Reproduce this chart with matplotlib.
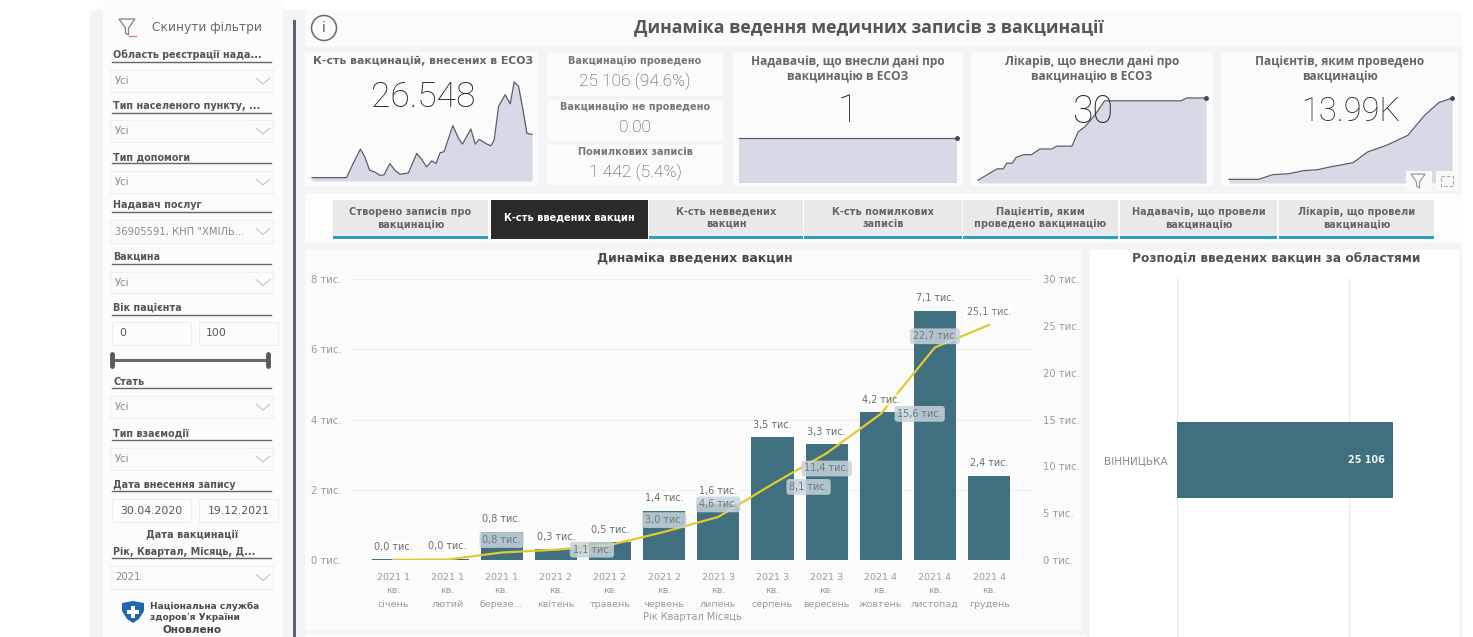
import matplotlib
matplotlib.use("Agg")
import matplotlib.pyplot as plt
from matplotlib.patches import Rectangle, Circle, Polygon

W, H = 1473, 637

# main chart data
months = ["2021 1\nкв.\nсічень", "2021 1\nкв.\nлютий", "2021 1\nкв.\nберезе...", "2021 2\nкв.\nквітень",
          "2021 2\nкв.\nтравень", "2021 2\nкв.\nчервень", "2021 3\nкв.\nлипень", "2021 3\nкв.\nсерпень",
          "2021 3\nкв.\nвересень", "2021 4\nкв.\nжовтень", "2021 4\nкв.\nлистопад", "2021 4\nкв.\nгрудень"]
monthly = [0.02, 0.03, 0.8, 0.3, 0.5, 1.4, 1.6, 3.5, 3.3, 4.2, 7.1, 2.4]
cumulative = [0.02, 0.05, 0.8, 1.1, 1.6, 3.0, 4.6, 8.1, 11.4, 15.6, 22.7, 25.1]
monthly_labels = ["0,0 тис.", "0,0 тис.", "0,8 тис.", "0,3 тис.", "0,5 тис.", "1,4 тис.",
                  "1,6 тис.", "3,5 тис.", "3,3 тис.", "4,2 тис.", "7,1 тис.", "2,4 тис."]
cumulative_labels = [None, None, "0,8 тис.", "1,1 тис.", None, "3,0 тис.",
                     "4,6 тис.", "8,1 тис.", "11,4 тис.", "15,6 тис.", "22,7 тис.", "25,1 тис."]

left_ticks = [0, 2, 4, 6, 8]
left_labels = ["0 тис.", "2 тис.", "4 тис.", "6 тис.", "8 тис."]
right_ticks = [0, 5, 10, 15, 20, 25, 30]
right_labels = ["0 тис.", "5 тис.", "10 тис.", "15 тис.", "20 тис.", "25 тис.", "30 тис."]

regions = ["ВІННИЦЬКА"]
region_values = [25106]

# sparklines
spark1_x = [0, 15.7, 18.7, 22.0, 24.0, 26.2, 28.5, 30.8, 32.7, 35.4, 37.7, 40.0, 43.8, 47.6, 49.9, 52.1, 54.4,
            56.4, 58.2, 60.0, 64.0, 66.6, 68.4, 72.2, 74.2, 76.0, 79.5, 81.3, 82.8, 84.8, 87.8, 90.1, 91.9,
            93.9, 95.9, 97.7, 100]
spark1_y = [10, 10, 52, 95, 72, 32, 27, 17, 18, 52, 32, 20, 24, 82, 64, 42, 60,
            52, 84, 87, 165, 127, 110, 155, 110, 124, 110, 105, 122, 222, 257, 230, 295,
            282, 212, 142, 139]
spark3_x = [0, 100]
spark3_y = [1, 1]
spark4_x = [0, 8.4, 11.1, 12.6, 15.1, 16.7, 19.9, 23.4, 27.2, 32.4, 34.5, 41.2, 43.9, 47.1, 51.3, 55.5, 89.0, 91.5, 100]
spark4_y = [1, 5, 5, 7, 7, 9, 10, 10, 12, 12, 13, 13, 18, 20, 24, 29, 29, 30, 30]
spark5_x = [0, 13.2, 19.6, 27.0, 33.4, 39.8, 45.1, 55.7, 62.1, 70.6, 80.2, 87.7, 94.0, 100]
spark5_y = [0.6, 0.6, 1.37, 1.54, 2.03, 2.19, 2.63, 3.35, 5.10, 6.2, 7.85, 11.14, 13.22, 13.99]

tabs = ["Створено записів про\nвакцинацію", "К-сть введених вакцин", "К-сть невведених\nвакцин",
        "К-сть помилкових\nзаписів", "Пацієнтів, яким\nпроведено вакцинацію",
        "Надавачів, що провели\nвакцинацію", "Лікарів, що провели\nвакцинацію"]

BAR = "#40707f"
LINE = "#e2c92e"
GREY_BG = "#f3f4f6"
PANEL = "#fbfbfb"
TXT = "#5f5f5f"
TICK = "#9a9a9a"
FILL = "#d6dae6"

plt.rcParams["font.family"] = ["DejaVu Sans"]

fig = plt.figure(figsize=(W / 100, H / 100), dpi=100, facecolor="white")
bg = fig.add_axes([0, 0, 1, 1])
bg.set_xlim(0, W)
bg.set_ylim(H, 0)
bg.axis("off")


def rect(x0, y0, x1, y1, color, z=1, ec="none", lw=0, on=None):
    (on or bg).add_patch(Rectangle((x0, y0), x1 - x0, y1 - y0, facecolor=color, edgecolor=ec, linewidth=lw, zorder=z))


def txt(x, y, s, size=8, color=TXT, ha="center", weight="normal", family="DejaVu Sans", **kw):
    return bg.text(x, y, s, fontsize=size, color=color, ha=ha, va="center", fontweight=weight,
                   family=family, zorder=5, **kw)


def px_axes(x0, y0, x1, y1):
    ax = fig.add_axes([x0 / W, 1 - y1 / H, (x1 - x0) / W, (y1 - y0) / H])
    ax.patch.set_alpha(0)
    return ax


def spark(x0, y0, x1, y1, xs, ys, ymax, dot=True):
    ax = px_axes(x0, y0, x1, y1)
    ax.fill_between(xs, ys, 0, color=FILL, lw=0)
    ax.plot(xs, ys, color="#5a5d68", lw=0.9, clip_on=False, solid_joinstyle="round")
    if dot:
        ax.plot(xs[-1], ys[-1], "o", color="#44464f", ms=2.5, clip_on=False)
    ax.set_xlim(0, 100)
    ax.set_ylim(0, ymax)
    ax.axis("off")
    return ax


def chevron(x, y):
    bg.plot([x - 7, x, x + 7], [y - 3, y + 3, y - 3], color="#bbbbbb", lw=0.7, zorder=5)


def filter_label(y, s, line_y):
    txt(113, y, s, size=6.9, ha="left", weight="bold", color="#555555")
    bg.plot([112, 271], [line_y, line_y], color="#666666", lw=1, zorder=5)


def dropdown(y0, y1, s="Усі"):
    rect(110, y0, 273, y1, "#fbfbfb", z=2, ec="#f0f0f0", lw=0.8)
    txt(115, (y0 + y1) / 2, s, size=7.2, ha="left", color="#888888")
    chevron(263, (y0 + y1) / 2)


def input_box(x0, x1, y0, y1, s, ha="center"):
    rect(x0, y0, x1, y1, "#fcfcfc", z=2, ec="#eeeeee", lw=0.8)
    tx = (x0 + x1) / 2 if ha == "center" else x0 + 7
    txt(tx, (y0 + y1) / 2, s, size=7.8, ha=ha, color="#555555")


def funnel(x, y, size, color="#8a8a8a", on=None):
    (on or bg).add_patch(Polygon([(x - size, y - size), (x + size, y - size), (x + 1.5, y + 1),
                                  (x + 1.5, y + size), (x - 1.5, y + size - 2), (x - 1.5, y + 1)],
                                 closed=True, fill=False, edgecolor=color, lw=0.9, zorder=5))


# page background
rect(90, 0, 1462, 637, GREY_BG, z=0)
rect(90, 0, 1473, 10, "white", z=0)
rect(103, 0, 283, 637, "#fcfcfc", z=1)
rect(293, 20, 296, 637, "#5c6072", z=2)

# sidebar
funnel(127, 27, 8, "#808080")
bg.plot([129, 136], [36, 36], color="#d08080", lw=1, zorder=5)
txt(152, 28, "Скинути фільтри", size=8.8, ha="left", color="#6a6a6a")

filter_label(55, "Область реєстрації нада...", 62)
dropdown(70, 92)
filter_label(106, "Тип населеного пункту, ...", 113)
dropdown(120, 142)
filter_label(157, "Тип допомоги", 163)
dropdown(171, 193)
filter_label(205, "Надавач послуг", 212)
dropdown(220, 243, '36905591, КНП "ХМІЛЬ...')
filter_label(257, "Вакцина", 264)
dropdown(272, 293)
filter_label(308, "Вік пацієнта", 315)
input_box(112, 191, 322, 345, "0", ha="left")
input_box(199, 278, 322, 345, "100", ha="left")
bg.plot([112, 268], [360, 360], color="#6a6a6a", lw=2.2, zorder=5)
bg.plot([112, 112], [354, 366], color="#5a5a5a", lw=3.5, zorder=5, solid_capstyle="round")
bg.plot([268, 268], [354, 366], color="#5a5a5a", lw=3.5, zorder=5, solid_capstyle="round")
filter_label(382, "Стать", 388)
dropdown(396, 418)
filter_label(434, "Тип взаємодії", 440)
dropdown(448, 470)
filter_label(485, "Дата внесення запису", 491)
input_box(112, 191, 499, 522, "30.04.2020")
input_box(199, 278, 499, 522, "19.12.2021")
txt(192, 534, "Дата вакцинації", size=7, weight="bold", color="#555555")
filter_label(552, "Рік, Квартал, Місяць, Д...", 558)
dropdown(566, 589, "2021")

# NHSU logo
bg.add_patch(Polygon([(122, 603), (133, 601), (144, 603), (144, 611), (139, 619), (133, 623), (127, 619), (122, 611)],
                     closed=True, facecolor="#2166ae", edgecolor="none", zorder=5))
rect(127, 609.5, 139, 613.5, "white", z=6)
rect(131, 605.5, 135, 617.5, "white", z=6)
txt(150, 606, "Національна служба", size=6.5, ha="left", weight="bold", color="#4a4a4a")
txt(150, 617, "здоров'я України", size=6.5, ha="left", weight="bold", color="#4a4a4a")
txt(192, 630, "Оновлено", size=7.5, weight="bold", color="#444444")

# header
rect(305, 10, 1462, 46, PANEL)
bg.add_patch(Circle((324, 28), 12.5, fill=False, edgecolor="#6a6a6a", lw=1.1, zorder=5))
txt(324, 28, "i", size=10, color="#5a5a5a")
txt(869, 28, "Динаміка ведення медичних записів з вакцинації", size=12.7, weight="bold", color="#555555",
    family="Open Sans")

# KPI cards
rect(305, 52, 538, 186, PANEL)
txt(423, 61, "К-сть вакцинацій, внесених в ЕСОЗ", size=7.85, weight="bold", color="#666666")
for y0, y1 in [(53, 96), (100, 141), (145, 185)]:
    rect(547, y0, 723, y1, PANEL)
txt(635, 61, "Вакцинацію проведено", size=7, weight="bold", color="#777777")
txt(635, 81, "25 106 (94.6%)", size=12.5, color="#444444", family="Roboto", weight="light")
txt(635, 107, "Вакцинацію не проведено", size=7, weight="bold", color="#777777")
txt(635, 127, "0.00", size=12.5, color="#444444", family="Roboto", weight="light")
txt(635, 152, "Помилкових записів", size=7, weight="bold", color="#777777")
txt(635, 172, "1 442 (5.4%)", size=12.5, color="#444444", family="Roboto", weight="light")
rect(733, 52, 963, 186, PANEL)
rect(971, 52, 1213, 186, PANEL)
rect(1221, 52, 1458, 186, PANEL)
txt(848, 69, "Надавачів, що внесли дані про\nвакцинацію в ЕСОЗ", size=8.6, weight="bold", color="#666666",
    family="Open Sans", linespacing=1.2)
txt(1092, 69, "Лікарів, що внесли дані про\nвакцинацію в ЕСОЗ", size=8.6, weight="bold", color="#666666",
    family="Open Sans", linespacing=1.2)
txt(1340, 69, "Пацієнтів, яким проведено\nвакцинацію", size=8.6, weight="bold", color="#666666",
    family="Open Sans", linespacing=1.2)

spark(312, 82, 532, 181, spark1_x, spark1_y, 295, dot=False)
spark(739, 138, 957, 183, spark3_x, spark3_y, 1)
spark(978, 98, 1206, 183, spark4_x, spark4_y, 30)
spark(1229, 98, 1452, 183, spark5_x, spark5_y, 14)

# big numbers go above the sparklines, same as the report
top = fig.add_axes([0, 0, 1, 1], zorder=10)
top.set_xlim(0, W)
top.set_ylim(H, 0)
top.axis("off")
for x, y, s, size in [(423, 97, "26.548", 25.5), (848, 111, "1", 27), (1093, 112, "30", 27), (1351, 112, "13.99K", 23.5)]:
    top.text(x, y, s, fontsize=size, color="#262626", ha="center", va="center", family="Roboto", fontweight="light")

# small icons on last card
rect(1406, 171, 1432, 191, "#f9f9f9", z=3, on=top)
rect(1436, 171, 1458, 191, "#f9f9f9", z=3, on=top)
funnel(1418, 181, 7, "#9a9a9a", on=top)
top.add_patch(Rectangle((1441, 176), 12, 10, fill=False, edgecolor="#a8a8a8", lw=0.8, ls=(0, (3, 2)), zorder=5))

# tabs
rect(305, 194, 1462, 243, "#fdfdfd")
tab_edges = [(333, 488), (491, 648), (649, 803), (804, 962), (963, 1118), (1120, 1277), (1279, 1434)]
for i, ((x0, x1), name) in enumerate(zip(tab_edges, tabs)):
    active = i == 1
    rect(x0, 200, x1, 238, "#2b2b2b" if active else "#e9e9e9", z=2)
    rect(x0, 236, x1, 238.5, "#2b2b2b" if active else "#2f9dbd", z=3)
    txt((x0 + x1) / 2, 218, name, size=7, weight="bold", color="white" if active else "#666666",
        linespacing=1.25)

# main chart panel
rect(305, 250, 1081, 630, PANEL)
rect(305, 634, 1085, 637, PANEL)
txt(695, 259, "Динаміка введених вакцин", size=9, weight="bold", color="#484848")

ax = px_axes(352, 279, 1033, 560)
xpos = list(range(len(months)))
ax.bar(xpos, monthly, width=0.78, color=BAR, zorder=2)
ax.set_xlim(-0.763, 11.81)
ax.set_ylim(0, 8)
ax.set_yticks(left_ticks)
ax.set_yticklabels(left_labels, ha="left", fontsize=7.2, color=TICK)
ax.tick_params(axis="y", length=0, pad=29.5)
ax.set_xticks(xpos)
ax.set_xticklabels(months, fontsize=6.8, color=TICK, linespacing=1.7)
ax.tick_params(axis="x", length=0, pad=9)
ax.grid(axis="y", color="#eeeeee", lw=0.9, zorder=0)
ax.set_axisbelow(True)
for s in ax.spines.values():
    s.set_visible(False)
ax.set_xlabel("Рік Квартал Місяць", fontsize=7, color=TICK, labelpad=2)

ax2 = ax.twinx()
ax2.set_ylim(0, 30)
ax2.set_yticks(right_ticks)
ax2.set_yticklabels(right_labels, fontsize=7.2, color=TICK)
ax2.tick_params(axis="y", length=0, pad=7)
for s in ax2.spines.values():
    s.set_visible(False)
ax2.plot(xpos, cumulative, color=LINE, lw=1.6, zorder=3)

# monthly labels sit in a white box over the bars
for i, (v, s) in enumerate(zip(monthly, monthly_labels)):
    ax2.annotate(s, xy=(i, v * 30 / 8), xytext=(0, 9), textcoords="offset points", ha="center", va="center",
                 fontsize=6.9, color="#6a6a6a", zorder=6,
                 bbox=dict(boxstyle="round,pad=0.15", fc="white", ec="none", alpha=0.55))

# offsets of the running total labels, in points
cum_offsets = {2: (0, 9), 3: (26, 0), 5: (0, 8.5), 6: (0, 9), 7: (26, -2), 8: (0, -11), 9: (28, 0), 10: (0, 8), 11: (0, 9)}
for i, (v, s) in enumerate(zip(cumulative, cumulative_labels)):
    if s is None:
        continue
    fc = "white" if i == 11 else "#c7d3da"
    ax2.annotate(s, xy=(i, v), xytext=cum_offsets[i], textcoords="offset points", ha="center", va="center",
                 fontsize=6.9, color="#6f7a80", zorder=6,
                 bbox=dict(boxstyle="round,pad=0.3", fc=fc, ec="none", alpha=0.85))

# region panel
rect(1090, 250, 1460, 637, "white")
txt(1276, 259, "Розподіл введених вакцин за областями", size=8.8, weight="bold", color="#525252")

axr = px_axes(1177, 278, 1440, 637)
axr.barh(regions, region_values, height=0.8, color=BAR, zorder=2)
axr.set_xlim(0, 30570)
axr.set_ylim(-1.863, 1.916)
axr.set_xticks([0, 20000])
axr.set_xticklabels([])
axr.grid(axis="x", color="#ececee", lw=1, zorder=0)
axr.set_axisbelow(True)
axr.tick_params(length=0, pad=7)
axr.tick_params(axis="y", labelsize=7.6, labelcolor="#8a8a8a")
for s in axr.spines.values():
    s.set_visible(False)
axr.text(region_values[0] - 900, 0, "25 106", ha="right", va="center", fontsize=6.9, fontweight="bold", color="#eef3f5",
         zorder=4)

fig.savefig("out.png", dpi=100)
